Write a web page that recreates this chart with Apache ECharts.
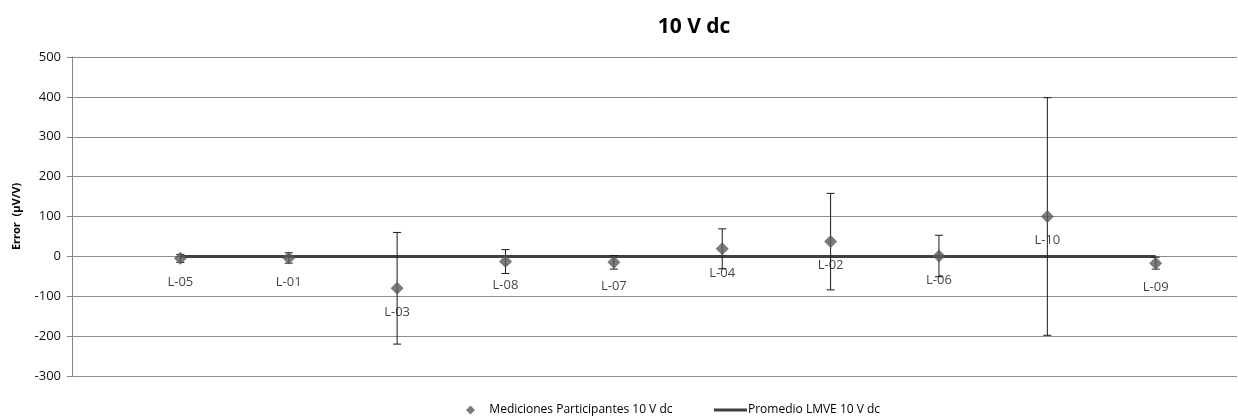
<!DOCTYPE html>
<html>
<head>
<meta charset="utf-8">
<script src="https://cdn.jsdelivr.net/npm/echarts@6/dist/echarts.min.js"></script>
<style>
html,body{margin:0;padding:0;background:#fff;}
#chart{width:1238px;height:420px;}
</style>
</head>
<body>
<div id="chart"></div>
<script>
// Data
const labs = ['L-05','L-01','L-03','L-08','L-07','L-04','L-02','L-06','L-10','L-09'];
const xPos = [1,2,3,4,5,6,7,8,9,10];
const values = [-5, -4, -80, -13, -15, 19, 37, 1, 100, -17];
const errs = [10, 13, 140, 30, 17, 50, 121, 52, 298, 15];
const avgX = [1, 10];
const avgY = [0, 0];
const yTicks = [-300, 500, 100];

const chart = echarts.init(document.getElementById('chart'));
const pts = xPos.map((x,i)=>[x, values[i], errs[i], labs[i]]);
const avgPts = avgX.map((x,i)=>[x, avgY[i]]);
const FONT = '"Open Sans", "Liberation Sans", sans-serif';

chart.setOption({
  animation:false,
  title:{text:'10 V dc', left:689, top:12, textAlign:'center',
    textStyle:{fontFamily:FONT, fontSize:21, fontWeight:'bold', color:'#000'}},
  grid:{left:72, right:1, top:57, bottom:44},
  legend:[
    {data:[{name:'Mediciones Participantes 10 V dc', icon:'diamond'}], left:461, top:399,
     itemWidth:9, itemHeight:9, itemGap:0,
     formatter:n=>'   '+n,
     textStyle:{fontFamily:FONT, fontSize:12, color:'#000'}},
    {data:[{name:'Promedio LMVE 10 V dc', icon:'rect'}], left:709, top:399,
     itemWidth:33, itemHeight:3,
     textStyle:{fontFamily:FONT, fontSize:12, color:'#000', padding:[0,0,0,-4]}}
  ],
  xAxis:{type:'value', min:0, max:10.75, show:false},
  yAxis:{type:'value', min:yTicks[0], max:yTicks[1], interval:yTicks[2],
    name:'Error  (µV/V)', nameLocation:'middle', nameGap:50,
    nameTextStyle:{fontFamily:FONT, fontSize:11, fontWeight:'bold', color:'#000'},
    axisLine:{show:true, lineStyle:{color:'#868686'}},
    axisTick:{show:true, length:5, lineStyle:{color:'#868686'}},
    axisLabel:{fontFamily:FONT, fontSize:13, color:'#111', margin:11},
    splitLine:{lineStyle:{color:'#8c8c8c', width:1}}
  },
  series:[
    {
      name:'Promedio LMVE 10 V dc', type:'line', data:avgPts, symbol:'none',
      lineStyle:{color:'#404040', width:3}, itemStyle:{color:'#404040'}, z:3
    },
    {
      name:'errbars', type:'custom', data:pts, z:4,
      renderItem:function(params, api){
        const x = api.value(0), y = api.value(1), e = api.value(2);
        const top = api.coord([x, y+e]);
        const bot = api.coord([x, y-e]);
        const c = 4;
        const st = {stroke:'#1a1a1a', lineWidth:1};
        return {type:'group', children:[
          {type:'line', shape:{x1:top[0], y1:top[1], x2:bot[0], y2:bot[1]}, style:st},
          {type:'line', shape:{x1:top[0]-c, y1:top[1], x2:top[0]+c, y2:top[1]}, style:st},
          {type:'line', shape:{x1:bot[0]-c, y1:bot[1], x2:bot[0]+c, y2:bot[1]}, style:st}
        ]};
      },
      encode:{x:0, y:1}
    },
    {
      name:'Mediciones Participantes 10 V dc', type:'scatter', data:pts, z:5,
      symbol:'diamond', symbolSize:13,
      itemStyle:{color:'#5a5a5a'},
      encode:{x:0, y:1},
      label:{show:true, position:'bottom', distance:11, formatter:p=>p.data[3],
        fontFamily:FONT, fontSize:13, color:'#111'}
    }
  ]
});
</script>
</body>
</html>
